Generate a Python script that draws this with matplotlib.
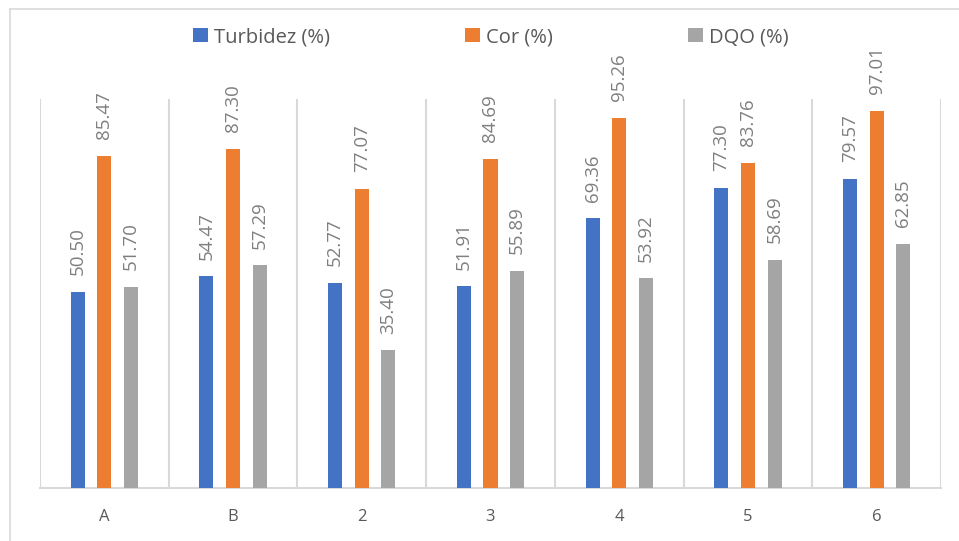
import numpy as np
import matplotlib.pyplot as plt
from matplotlib.patches import Patch
from matplotlib.lines import Line2D

plt.rcParams['font.family'] = ['Open Sans', 'DejaVu Sans']

categories = ['A', 'B', '2', '3', '4', '5', '6']
turbidez = [50.50, 54.47, 52.77, 51.91, 69.36, 77.30, 79.57]
cor = [85.47, 87.30, 77.07, 84.69, 95.26, 83.76, 97.01]
dqo = [51.70, 57.29, 35.40, 55.89, 53.92, 58.69, 62.85]
series_names = ['Turbidez (%)', 'Cor (%)', 'DQO (%)']
colors = ['#4472C4', '#ED7D31', '#A5A5A5']

fig = plt.figure(figsize=(9.59, 5.41), dpi=100)
ax = fig.add_axes([40 / 959, 53 / 541, 901 / 959, 388.6 / 541])

x = np.arange(len(categories))
width = 0.109
offset = 0.207
for i, (vals, c) in enumerate(zip([turbidez, cor, dqo], colors)):
    pos = x + (i - 1) * offset
    ax.bar(pos, vals, width=width, color=c, zorder=3)
    for px, v in zip(pos, vals):
        ax.annotate(f'{v:.2f}', (px, v), xytext=(0, 12), textcoords='offset points',
                    rotation=90, ha='center', va='bottom', fontsize=13.5,
                    color='#7f7f7f', annotation_clip=False)

ax.set_xlim(-0.5, len(categories) - 0.5)
ax.set_ylim(0, 100)
ax.set_yticks([])
ax.set_xticks(x)
ax.set_xticklabels(categories, fontsize=12, color='#595959')
ax.tick_params(axis='x', length=0, pad=15)

# vertical separators between categories
for b in np.arange(-0.5, len(categories), 1.0):
    ax.axvline(b, color='#d9d9d9', lw=1.5, zorder=1)
for s in ['top', 'left', 'right']:
    ax.spines[s].set_visible(False)
ax.spines['bottom'].set_color('#d9d9d9')
ax.spines['bottom'].set_linewidth(1.5)

# chart area border (top and left)
fig.add_artist(Line2D([10 / 959, 10 / 959], [0, 1 - 9 / 541], transform=fig.transFigure,
                      color='#d9d9d9', lw=1.2))
fig.add_artist(Line2D([10 / 959, 1], [1 - 9 / 541, 1 - 9 / 541], transform=fig.transFigure,
                      color='#d9d9d9', lw=1.2))

handles = [Patch(facecolor=c, edgecolor='none') for c in colors]
fig.legend(handles, series_names, loc='center', bbox_to_anchor=(491 / 959, 1 - 37 / 541),
           ncol=3, frameon=False, fontsize=14.5, handlelength=0.75, handleheight=0.75,
           handletextpad=0.3, columnspacing=6.7, labelcolor='#595959')

fig.savefig('out.png', dpi=100)
